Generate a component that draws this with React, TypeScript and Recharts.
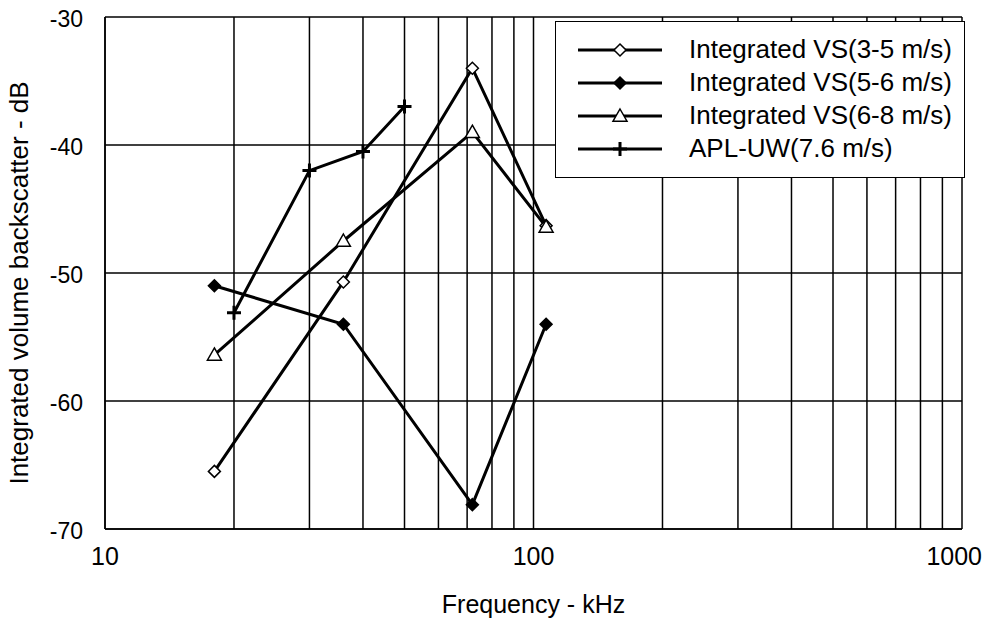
import React from 'react';
import { LineChart, Line, XAxis, YAxis, CartesianGrid } from 'recharts';

const xTicks = [10, 20, 30, 40, 50, 60, 70, 80, 90, 100, 200, 300, 400, 500, 600, 700, 800, 900, 1000];
const xLabelTicks = [10, 100, 1000];
const yTicks = [-70, -60, -50, -40, -30];

const vsFreq = [18, 36, 72, 107];
const vs35 = [-65.5, -50.7, -34, -46.3];
const vs56 = [-51, -54, -68.1, -54];
const vs68 = [-56.4, -47.5, -39, -46.4];
const aplFreq = [20, 30, 40, 50];
const apl = [-53.1, -42, -40.5, -37];

const names = [
  'Integrated VS(3-5 m/s)',
  'Integrated VS(5-6 m/s)',
  'Integrated VS(6-8 m/s)',
  'APL-UW(7.6 m/s)',
];

const toRows = (xs: number[], ys: number[]) => xs.map((x, i) => ({ x, y: ys[i] }));
const d1 = toRows(vsFreq, vs35);
const d2 = toRows(vsFreq, vs56);
const d3 = toRows(vsFreq, vs68);
const d4 = toRows(aplFreq, apl);

const FONT = '"Liberation Sans", Arial, Helvetica, sans-serif';

const Marker = ({ kind, cx, cy }: { kind: string; cx: number; cy: number }) => {
  if (cx == null || cy == null) return null;
  if (kind === 'openDiamond' || kind === 'filledDiamond') {
    const r = 6;
    return (
      <path
        d={`M${cx},${cy - r}L${cx + r},${cy}L${cx},${cy + r}L${cx - r},${cy}Z`}
        fill={kind === 'filledDiamond' ? '#000' : '#fff'}
        stroke="#000"
        strokeWidth={1.5}
      />
    );
  }
  if (kind === 'triangle') {
    const r = 7;
    return (
      <path
        d={`M${cx},${cy - r}L${cx + r},${cy + r * 0.75}L${cx - r},${cy + r * 0.75}Z`}
        fill="#fff"
        stroke="#000"
        strokeWidth={1.5}
      />
    );
  }
  const r = 7;
  return (
    <path d={`M${cx - r},${cy}L${cx + r},${cy}M${cx},${cy - r}L${cx},${cy + r}`} stroke="#000" strokeWidth={3} fill="none" />
  );
};

const makeDot = (kind: string) => (props: any) => (
  <Marker key={`${kind}-${props.index}`} kind={kind} cx={props.cx} cy={props.cy} />
);

const kinds = ['openDiamond', 'filledDiamond', 'triangle', 'plus'];

const LegendBox = () => (
  <div
    style={{
      position: 'absolute',
      left: 555,
      top: 21,
      background: '#fff',
      border: '1.5px solid #000',
      width: 410,
      height: 157,
      boxSizing: 'border-box',
      padding: '11px 0 0 0',
      fontFamily: FONT,
    }}
  >
    {names.map((n, i) => (
      <div key={n} style={{ display: 'flex', alignItems: 'center', height: 33 }}>
        <svg width={110} height={20} style={{ marginLeft: 20, flex: 'none' }}>
          <line x1={2} y1={10} x2={86} y2={10} stroke="#000" strokeWidth={3} />
          <Marker kind={kinds[i]} cx={44} cy={10} />
        </svg>
        <span style={{ fontSize: 26, color: '#000', marginLeft: 3, lineHeight: '33px', whiteSpace: 'nowrap' }}>{n}</span>
      </div>
    ))}
  </div>
);

const XTick = (props: any) => {
  const { x, y, payload } = props;
  if (!xLabelTicks.includes(payload.value)) return null;
  const last = payload.value === xLabelTicks[xLabelTicks.length - 1];
  return (
    <text
      x={last ? x + 20 : x}
      y={y + 10}
      textAnchor={last ? 'end' : 'middle'}
      dominantBaseline="hanging"
      fontFamily={FONT}
      fontSize={25}
      fill="#000"
    >
      {payload.value}
    </text>
  );
};

const YTick = (props: any) => {
  const { x, y, payload } = props;
  return (
    <text x={x - 14} y={y + 2} textAnchor="end" dominantBaseline="central" fontFamily={FONT} fontSize={23} fill="#000">
      {payload.value}
    </text>
  );
};

export default function App() {
  return (
    <div style={{ position: 'absolute', left: 0, top: 0, width: 986, height: 627, background: '#fff' }}>
      <LineChart width={986} height={627} margin={{ top: 17, right: 24, bottom: 0, left: 0 }}>
        <CartesianGrid stroke="#000" strokeWidth={1.5} />
        <XAxis
          dataKey="x"
          type="number"
          scale="log"
          domain={[10, 1000]}
          ticks={xTicks}
          allowDataOverflow
          height={98}
          axisLine={{ stroke: '#000', strokeWidth: 1.5 }}
          tickLine={false}
          tick={<XTick />}
          interval={0}
          label={{ value: 'Frequency - kHz', position: 'insideBottom', offset: 14, fontSize: 25, fill: '#000', fontFamily: FONT }}
        />
        <YAxis
          type="number"
          domain={[-70, -30]}
          ticks={yTicks}
          width={105}
          axisLine={{ stroke: '#000', strokeWidth: 1.5 }}
          tickLine={false}
          tick={<YTick />}
          interval={0}
          label={(p: any) => (
            <text
              transform={`translate(28, ${(p.viewBox?.y ?? 17) + (p.viewBox?.height ?? 512) / 2 + 10}) rotate(-90)`}
              textAnchor="middle"
              fontFamily={FONT}
              fontSize={26}
              fill="#000"
            >
              Integrated volume backscatter - dB
            </text>
          )}
        />
        <Line data={d1} dataKey="y" name={names[0]} stroke="#000" strokeWidth={3} dot={makeDot('openDiamond')} isAnimationActive={false} legendType="none" />
        <Line data={d2} dataKey="y" name={names[1]} stroke="#000" strokeWidth={3} dot={makeDot('filledDiamond')} isAnimationActive={false} legendType="none" />
        <Line data={d3} dataKey="y" name={names[2]} stroke="#000" strokeWidth={3} dot={makeDot('triangle')} isAnimationActive={false} legendType="none" />
        <Line data={d4} dataKey="y" name={names[3]} stroke="#000" strokeWidth={3} dot={makeDot('plus')} isAnimationActive={false} legendType="none" />
      </LineChart>
      <LegendBox />
    </div>
  );
}
